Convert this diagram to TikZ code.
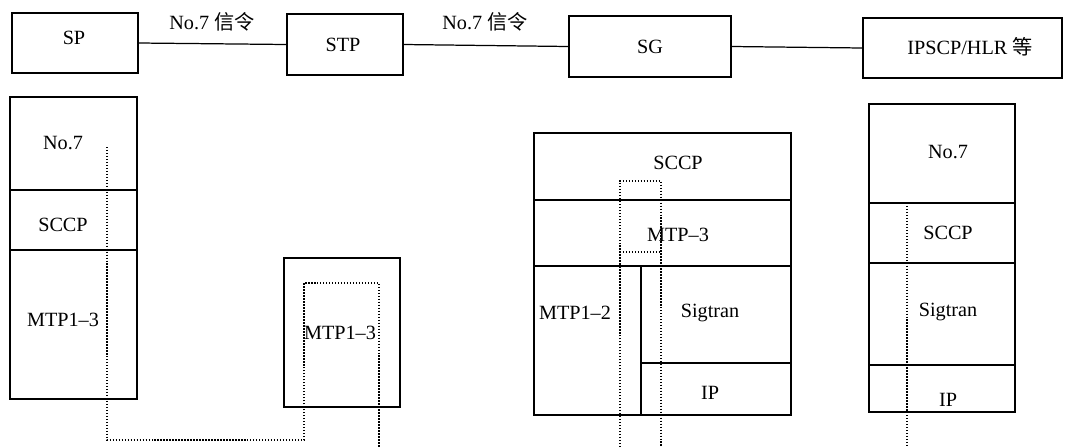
\documentclass[tikz,border=0pt]{standalone}
\usepackage{fontspec}
\setmainfont{Liberation Serif}
\newfontfamily\cjk{Noto Sans CJK SC}
\begin{document}
\begin{tikzpicture}[x=0.02cm,y=-0.02cm,
  box/.style={draw, line width=0.7pt, rectangle, inner sep=0pt},
  lbl/.style={inner sep=0pt, font=\fontsize{11.5}{13}\selectfont},
  dots/.style={line width=0.6pt, dash pattern=on 0.8pt off 0.9pt},
  link/.style={line width=0.7pt}]
\useasboundingbox (0,0) rectangle (1067,447);
% ---------- top row ----------
\node[box, minimum width={126*0.02cm}, minimum height={60*0.02cm}] (sp) at (75,43) {};
\node[lbl] (tsp) at (74,38) {SP};
\node[box, minimum width={116*0.02cm}, minimum height={61*0.02cm}] (stp) at (345,44.5) {};
\node[lbl] (tstp) at (343,45) {STP};
\node[box, minimum width={162*0.02cm}, minimum height={61*0.02cm}] (sg) at (650,46.5) {};
\node[lbl] (tsg) at (650,47) {SG};
\node[box, minimum width={199*0.02cm}, minimum height={60*0.02cm}] (hlr) at (962.5,48) {};
\node[lbl] (thlr) at (970,47) {IPSCP/HLR {\cjk 等}};
\draw[link] (sp.east) -- (stp.west);
\draw[link] (stp.east) -- (sg.west);
\draw[link] (sg.east) -- (hlr.west);
\node[lbl] (l1) at (212,22) {No.7 {\cjk 信令}};
\node[lbl] (l2) at (485,22) {No.7 {\cjk 信令}};
% ---------- SP stack ----------
\node[box, minimum width={127*0.02cm}, minimum height={93*0.02cm}] (a1) at (73.5,143.5) {};
\node[box, minimum width={127*0.02cm}, minimum height={60*0.02cm}] (a2) at (73.5,220) {};
\node[box, minimum width={127*0.02cm}, minimum height={149*0.02cm}] (a3) at (73.5,324.5) {};
\node[lbl] (ta1) at (63,143) {No.7};
\node[lbl] (ta2) at (63,225) {SCCP};
\node[lbl] (ta3) at (63,320) {MTP1--3};
% ---------- STP stack ----------
\node[box, minimum width={116*0.02cm}, minimum height={149*0.02cm}] (b1) at (342,332.5) {};
\node[lbl] (tb1) at (340,333) {MTP1--3};
% ---------- SG stack ----------
\node[box, minimum width={257*0.02cm}, minimum height={67*0.02cm}] (c1) at (662.5,166.5) {};
\node[box, minimum width={257*0.02cm}, minimum height={66*0.02cm}] (c2) at (662.5,233) {};
\node[box, minimum width={107*0.02cm}, minimum height={149*0.02cm}] (c3) at (587.5,340.5) {};
\node[box, minimum width={150*0.02cm}, minimum height={97*0.02cm}] (c4) at (716,314.5) {};
\node[box, minimum width={150*0.02cm}, minimum height={52*0.02cm}] (c5) at (716,389) {};
\node[lbl] (tc1) at (678,163) {SCCP};
\node[lbl] (tc2) at (678,235) {MTP--3};
\node[lbl] (tc3) at (575,313) {MTP1--2};
\node[lbl] (tc4) at (710,313) {Sigtran};
\node[lbl] (tc5) at (710,393) {IP};
% ---------- IPSCP stack ----------
\node[box, minimum width={146*0.02cm}, minimum height={99*0.02cm}] (d1) at (942,153.5) {};
\node[box, minimum width={146*0.02cm}, minimum height={60*0.02cm}] (d2) at (942,233) {};
\node[box, minimum width={146*0.02cm}, minimum height={102*0.02cm}] (d3) at (942,314) {};
\node[box, minimum width={146*0.02cm}, minimum height={47*0.02cm}] (d4) at (942,388.5) {};
\node[lbl] (td1) at (948,152) {No.7};
\node[lbl] (td2) at (948,233) {SCCP};
\node[lbl] (td3) at (948,312) {Sigtran};
\node[lbl] (td4) at (948,400) {IP};
% ---------- dotted signalling paths ----------
\coordinate (p1) at (107,147);
\coordinate (p2) at (107,440);
\coordinate (p3) at (304,440);
\coordinate (p4) at (304,283);
\coordinate (p5) at (379,283);
\coordinate (p6) at (379,447);
\draw[dots] (p1) -- (p2) -- (p3) -- (p4) -- (p5) -- (p6);
\coordinate (q1) at (620,447);
\coordinate (q2) at (620,181);
\coordinate (q3) at (661,181);
\coordinate (q4) at (661,447);
\coordinate (q5) at (620,252);
\coordinate (q6) at (661,252);
\draw[dots] (q1) -- (q2) -- (q3) -- (q4);
\draw[dots] (q5) -- (q6);
\coordinate (r1) at (907,203);
\coordinate (r2) at (907,447);
\draw[dots] (r1) -- (r2);
\end{tikzpicture}
\end{document}
